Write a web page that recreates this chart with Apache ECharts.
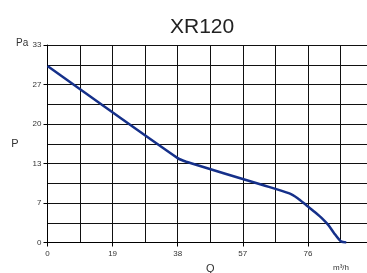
<!DOCTYPE html>
<html>
<head>
<meta charset="utf-8">
<script src="https://cdn.jsdelivr.net/npm/echarts@6/dist/echarts.min.js"></script>
<style>
  html, body { margin: 0; padding: 0; background: #fff; }
  #chart { width: 367px; height: 273px; }
</style>
</head>
<body>
<div id="chart"></div>
<script>
// fan curve XR120, flow Q (m3/h) against pressure P (Pa)
var flowQ = [0, 38, 40.5, 62.8, 70.6, 73, 75.4, 78, 80.2, 82, 83.6, 85.6, 87.2];
var pressP = [29.5, 14.1, 13.5, 9.6, 8.2, 7.4, 6.3, 5.1, 4.0, 2.9, 1.6, 0.2, 0];
var yTickLabels = ['0', '7', '13', '20', '27', '33'];
var xTickLabels = ['0', '19', '38', '57', '76', '95'];

var points = [];
for (var i = 0; i < flowQ.length; i++) {
  points.push([flowQ[i], pressP[i]]);
}

var lblFont = 'Liberation Sans, Arial, sans-serif';
var myChart = echarts.init(document.getElementById('chart'));
var option = {
  animation: false,
  title: {
    text: 'XR120',
    left: 165,
    top: 12,
    textStyle: { color: '#222', fontSize: 21, fontWeight: 'normal', fontFamily: lblFont }
  },
  grid: {
    left: 47.5, right: -6, top: 45, bottom: 30.5,
    containLabel: false,
    outerBoundsMode: 'none'
  },
  xAxis: {
    type: 'value',
    min: 0,
    max: 95,
    interval: 19,
    name: 'Q',
    nameLocation: 'middle',
    nameGap: 21,
    nameTextStyle: { color: '#333', fontSize: 11, fontFamily: lblFont },
    axisLine: { show: true, lineStyle: { color: '#000', width: 1 } },
    axisTick: { show: true, length: 4, lineStyle: { color: '#000' } },
    axisLabel: {
      color: '#333', fontSize: 8, margin: 7, fontFamily: lblFont,
      formatter: function(v) { return xTickLabels[Math.round(v / 19)]; }
    },
    splitLine: { show: true, lineStyle: { color: '#111', width: 1 } },
    minorTick: { show: false, splitNumber: 2 },
    minorSplitLine: { show: true, lineStyle: { color: '#111', width: 1 } }
  },
  yAxis: {
    type: 'value',
    min: 0,
    max: 33,
    interval: 6.6,
    name: 'P',
    nameLocation: 'middle',
    nameGap: 29,
    nameRotate: 0,
    nameTextStyle: { color: '#333', fontSize: 11, fontFamily: lblFont },
    axisLine: { show: true, lineStyle: { color: '#000', width: 1 } },
    axisTick: { show: true, length: 4, lineStyle: { color: '#000' } },
    axisLabel: {
      color: '#333', fontSize: 8, margin: 6, fontFamily: lblFont,
      formatter: function(v) { return yTickLabels[Math.round(v / 6.6)]; }
    },
    splitLine: { show: true, lineStyle: { color: '#111', width: 1 } },
    minorTick: { show: false, splitNumber: 2 },
    minorSplitLine: { show: true, lineStyle: { color: '#111', width: 1 } }
  },
  graphic: [
    {
      type: 'text', left: 16, top: 38,
      style: { text: 'Pa', fill: '#333', font: '10px ' + lblFont }
    },
    {
      type: 'text', left: 333, top: 264,
      style: { text: 'm³/h', fill: '#333', font: '8px ' + lblFont }
    }
  ],
  series: [
    {
      type: 'line',
      data: points,
      smooth: 0.25,
      showSymbol: false,
      lineStyle: { color: '#15308a', width: 2.5 }
    }
  ]
};
myChart.setOption(option);
</script>
</body>
</html>
